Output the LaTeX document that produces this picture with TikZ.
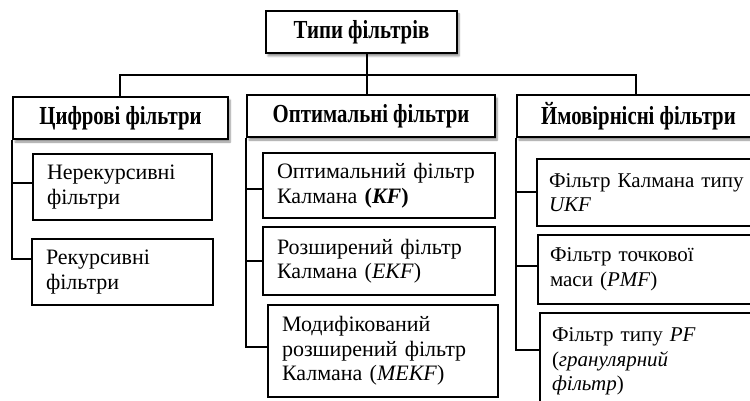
\documentclass[tikz,border=0pt]{standalone}
\usepackage{fontspec}
\setmainfont{Liberation Serif}
\newfontfamily\condfont[FakeStretch=0.8]{Liberation Serif}
\usetikzlibrary{calc,shadows.blur}
\begin{document}
\begin{tikzpicture}[x=1pt,y=-1pt,
  head/.style={draw, line width=2.2pt, fill=white, inner sep=0pt, minimum height=42pt,
    font=\condfont\bfseries\fontsize{26}{28}\selectfont,
    blur shadow={shadow xshift=2pt, shadow yshift=-3pt, shadow blur steps=6, shadow opacity=45}},
  leaf/.style={draw, line width=1.3pt, fill=white, align=left, inner xsep=14pt, inner ysep=2pt,
    font=\fontsize{22}{24.5}\selectfont},
  rleaf/.style={leaf, inner xsep=12pt, font=\fontsize{21}{24.5}\selectfont},
  conn/.style={line width=1.8pt}]
\useasboundingbox (0,0) rectangle (750,401);
\clip (0,0) rectangle (750,401);

% level 1 and 2
\node[head, minimum width=191pt] (top) at (361.5,32) {Типи фільтрів};
\node[head, minimum width=215pt] (dig) at (120.5,118) {Цифрові фільтри};
\node[head, minimum width=248pt] (opt) at (371,116) {Оптимальні фільтри};
\node[head, minimum width=243pt] (prob) at (638.5,116) {Ймовірнісні фільтри};

% level 3, left
\node[leaf, text width=151pt, minimum height=66pt] (d1) at (122.5,187) {Нерекурсивні\\фільтри};
\node[leaf, text width=153pt, minimum height=66pt] (d2) at (122.5,272) {Рекурсивні\\фільтри};

% level 3, middle
\node[leaf, text width=204pt, minimum height=65pt] (o1) at (379,185.5) {Оптимальний фільтр\\Калмана \textbf{(\textit{KF})}};
\node[leaf, text width=204pt, minimum height=68pt] (o2) at (379,261) {Розширений фільтр\\Калмана (\textit{EKF})};
\node[leaf, text width=202pt, minimum height=92pt] (o3) at (383,351) {Модифікований\\розширений фільтр\\Калмана (\textit{MEKF})};

% level 3, right (clipped at the edge)
\node[rleaf, text width=236pt, minimum height=67pt] (p1) at (667,192.5) {Фільтр Калмана типу\\\textit{UKF}};
\node[rleaf, text width=236pt, minimum height=69pt] (p2) at (668,269.5) {Фільтр точкової\\маси (\textit{PMF})};
\node[rleaf, text width=236pt, minimum height=97pt] (p3) at (670,361.5) {Фільтр типу \textit{PF}\\(\textit{гранулярний}\\\textit{фільтр})};

% connectors
\coordinate (bus) at (367,75);
\coordinate (busL) at (120,75);
\coordinate (busR) at (636,75);
\draw[conn] (top.south -| bus) -- (bus) -- (bus |- opt.north);
\draw[conn] (dig.north -| busL) -- (busL) -- (busR) -- (busR |- prob.north);

\draw[conn] (dig.south west) |- ($(d1.north west)+(0,30)$);
\draw[conn] (dig.south west) |- ($(d2.north west)+(0,21)$);

\draw[conn] (opt.south west) |- ($(o1.north west)+(0,37)$);
\draw[conn] (opt.south west) |- ($(o2.north west)+(0,35)$);
\draw[conn] (opt.south west) |- ($(o3.north west)+(0,43)$);

\draw[conn] (prob.south west) |- ($(p1.north west)+(0,34)$);
\draw[conn] (prob.south west) |- ($(p2.north west)+(0,32)$);
\draw[conn] (prob.south west) |- ($(p3.north west)+(0,38)$);
\end{tikzpicture}
\end{document}
